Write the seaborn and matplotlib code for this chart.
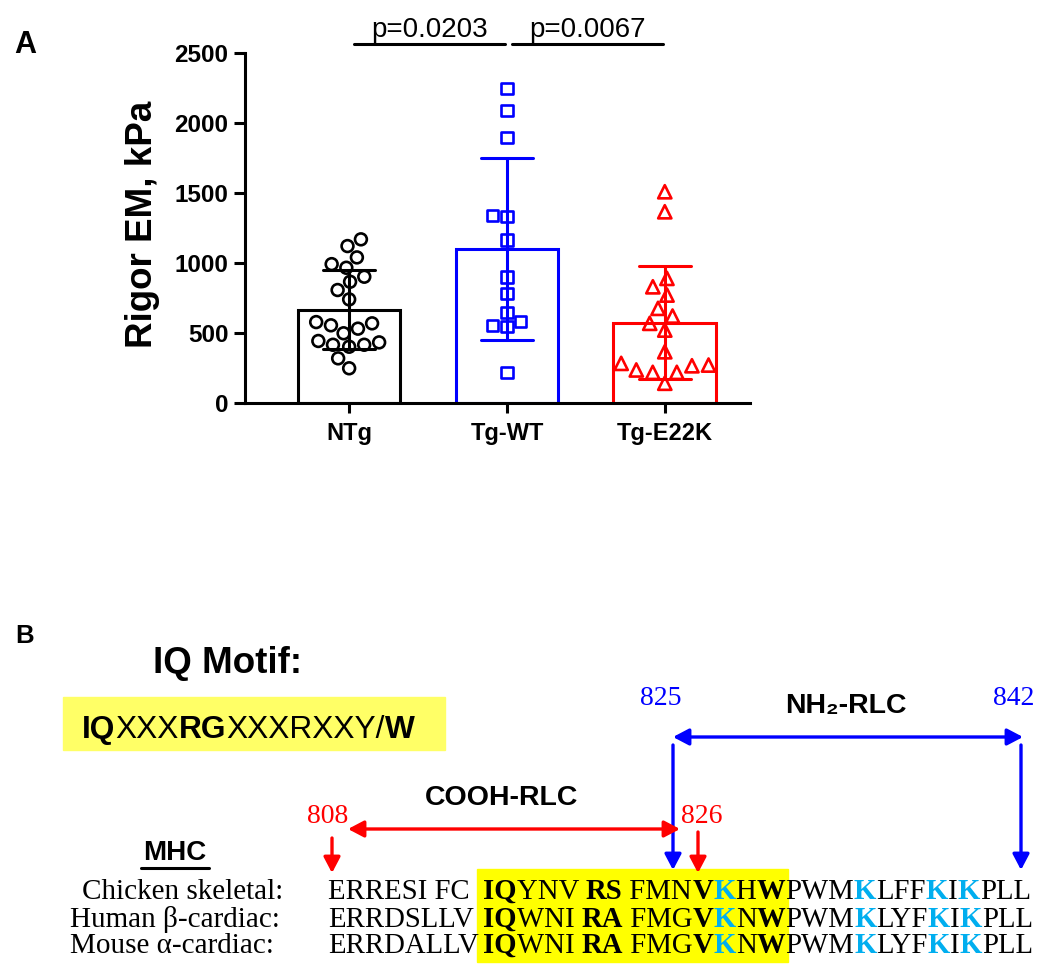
import re
import numpy as np
import pandas as pd
import seaborn as sns
import matplotlib.pyplot as plt
from matplotlib.patches import Rectangle

# ---- panel A data ----
groups = ["NTg", "Tg-WT", "Tg-E22K"]
colors = ["black", "#0000FF", "#FF0000"]
markers = ["o", "s", "^"]
marker_sizes = [8.5, 8, 9.5]

ntg = [1169, 1121, 1040, 966, 992, 902, 866, 807, 740, 569, 578, 555, 531,
       498, 433, 416, 402, 416, 443, 319, 248]
tg_wt = [2245, 2092, 1899, 1337, 1330, 1164, 900, 781, 645, 585, 552, 545, 216]
tg_e22k = [1509, 1366, 890, 830, 771, 676, 621, 569, 521, 366, 283, 266, 219,
           219, 236, 271, 141]

p_labels = ["p=0.0203", "p=0.0067"]
p_pairs = [(0, 1), (1, 2)]

# ---- panel B text ----
motif = "*IQ*XXX*RG*XXXRXXY/*W*"
row_names = ["Chicken skeletal:", "Human \u03b2-cardiac:", "Mouse \u03b1-cardiac:"]
row_pre = ["ERRESI FC", "ERRDSLLV", "ERRDALLV"]
row_core = ["*IQ*YNV *RS* FMN*V*{K}H*W*", "*IQ*WNI *RA* FMG*V*{K}N*W*", "*IQ*WNI *RA* FMG*V*{K}N*W*"]
row_tail = ["PWM{K}LFF{K}I{K}PLL", "PWM{K}LYF{K}I{K}PLL", "PWM{K}LYF{K}I{K}PLL"]

df = pd.DataFrame({
    "group": ["NTg"] * len(ntg) + ["Tg-WT"] * len(tg_wt) + ["Tg-E22K"] * len(tg_e22k),
    "value": ntg + tg_wt + tg_e22k,
})

sns.set_theme(style="ticks")
plt.rcParams['font.family'] = ['Liberation Sans', 'DejaVu Sans']
plt.rcParams.update({"text.color": "black", "axes.labelcolor": "black",
                     "xtick.color": "black", "ytick.color": "black",
                     "axes.edgecolor": "black"})

fig = plt.figure(figsize=(10.5, 9.73), dpi=100)
bg = fig.add_axes([0, 0, 1, 1])
bg.set_xlim(0, 1050)
bg.set_ylim(973, 0)
bg.axis('off')

ax = fig.add_axes([245 / 1050, 570 / 973, 505 / 1050, 350 / 973])

sns.barplot(data=df, x="group", y="value", hue="group", order=groups, hue_order=groups,
            palette=colors, fill=False, errorbar="sd", capsize=0.33, width=0.65,
            linewidth=2.2, err_kws={"linewidth": 2.2}, legend=False, ax=ax)

for g, c, m, s in zip(groups, colors, markers, marker_sizes):
    sns.swarmplot(data=df[df.group == g], x="group", y="value", order=groups,
                  marker=m, size=s, color=c, facecolor="none", edgecolor=c,
                  linewidth=1.9, ax=ax)

ax.set_ylim(0, 2500)
ax.set_yticks(range(0, 2501, 500))
ax.set_xlim(-0.66, 2.54)
sns.despine(ax=ax)
for sp in ["left", "bottom"]:
    ax.spines[sp].set_linewidth(2.2)
    ax.spines[sp].set_color("black")
ax.tick_params(axis="y", width=2.2, length=8, labelsize=17.5, pad=4, colors="black")
ax.tick_params(axis="x", width=2.2, length=7, labelsize=17, pad=7, colors="black")
for lab in ax.get_xticklabels() + ax.get_yticklabels():
    lab.set_fontweight("bold")
ax.set_xlabel("")
ax.set_ylabel("Rigor EM, kPa", fontsize=26.5, fontweight="bold", color="black")
ax.yaxis.set_label_coords(-0.168, 0.51)

for (a, b), lab in zip(p_pairs, p_labels):
    x0, x1 = a + 0.03, b - 0.01
    ax.plot([x0, x1], [2564, 2564], color="black", lw=2.2, clip_on=False)
    ax.text((x0 + x1) / 2, 2614, lab, ha="center", va="baseline", fontsize=20)

bg.text(14, 53, "A", fontsize=22, fontweight="bold", va="baseline")

# ---- panel B ----
renderer = fig.canvas.get_renderer()


def seg_width(s, **kw):
    t = bg.text(0, 0, "|" + s + "|", **kw)
    r = bg.text(0, 0, "||", **kw)
    w = t.get_window_extent(renderer).width - r.get_window_extent(renderer).width
    t.remove()
    r.remove()
    return w


def parse(markup):
    segs = []
    for tok in re.findall(r"\*[^*]+\*|\{[^}]+\}|[^*{]+", markup):
        if tok.startswith("*"):
            segs.append((tok[1:-1], "bold", "black"))
        elif tok.startswith("{"):
            segs.append((tok[1:-1], "bold", "#00AEEF"))
        else:
            segs.append((tok, "normal", "black"))
    return segs


def draw_segments(x, y, markup, size, family):
    for s, weight, color in parse(markup):
        kw = dict(fontsize=size, fontweight=weight, family=family)
        bg.text(x, y, s, color=color, ha="left", va="baseline", **kw)
        x += seg_width(s, **kw)
    return x


sans = ["Liberation Sans", "DejaVu Sans"]
serif = ["Liberation Serif", "DejaVu Serif"]

bg.text(15, 643, "B", fontsize=18.5, fontweight="bold", va="baseline")
bg.text(153, 673, "IQ Motif:", fontsize=26.5, fontweight="bold", va="baseline")
bg.add_patch(Rectangle((63, 697), 382, 53, color="#FFFF66", zorder=0))
draw_segments(82, 738, motif, 22.8, sans)

# MHC header
bg.text(143, 860, "MHC", fontsize=20, fontweight="bold", va="baseline")
bg.plot([141, 209], [868, 868], color="black", lw=2.2)

baselines = [899, 927, 953]
name_x = [82, 70, 70]
core_x = 483
core_ends = []
for name, nx, yb, pre, core, tail in zip(row_names, name_x, baselines, row_pre, row_core, row_tail):
    bg.text(nx, yb, name, fontsize=21, family=serif, va="baseline")
    draw_segments(328, yb, pre, 20.7, serif)
    xe = draw_segments(core_x, yb, core, 20.7, serif)
    core_ends.append(xe)
    draw_segments(xe, yb, tail, 20.7, serif)

bg.add_patch(Rectangle((core_x - 6, 869), max(core_ends) + 2 - (core_x - 6), 93,
                       color="#FFFF00", zorder=0))


def arrow(p0, p1, color, style="-|>"):
    bg.annotate("", xy=p1, xytext=p0,
                arrowprops=dict(arrowstyle=style + ",head_length=0.95,head_width=0.5",
                                color=color, lw=2.4, mutation_scale=10,
                                shrinkA=0, shrinkB=0))


blue = "#0000FF"
red = "#FF0000"
arrow((673, 737), (1023, 737), blue, "<|-|>")
arrow((673, 745), (673, 870), blue)
arrow((1021, 745), (1021, 870), blue)
arrow((348, 829), (680, 829), red, "<|-|>")
arrow((332, 838), (332, 873), red)
arrow((698, 832), (698, 873), red)

bg.text(640, 705, "825", fontsize=20, family=serif, color=blue, va="baseline")
bg.text(993, 705, "842", fontsize=20, family=serif, color=blue, va="baseline")
bg.text(307, 823, "808", fontsize=20, family=serif, color=red, va="baseline")
bg.text(681, 823, "826", fontsize=20, family=serif, color=red, va="baseline")
bg.text(785, 713, "NH\u2082-RLC", fontsize=20.5, fontweight="bold", family=sans, va="baseline")
bg.text(425, 805, "COOH-RLC", fontsize=20.5, fontweight="bold", family=sans, va="baseline")

fig.savefig("out.png", dpi=100)
